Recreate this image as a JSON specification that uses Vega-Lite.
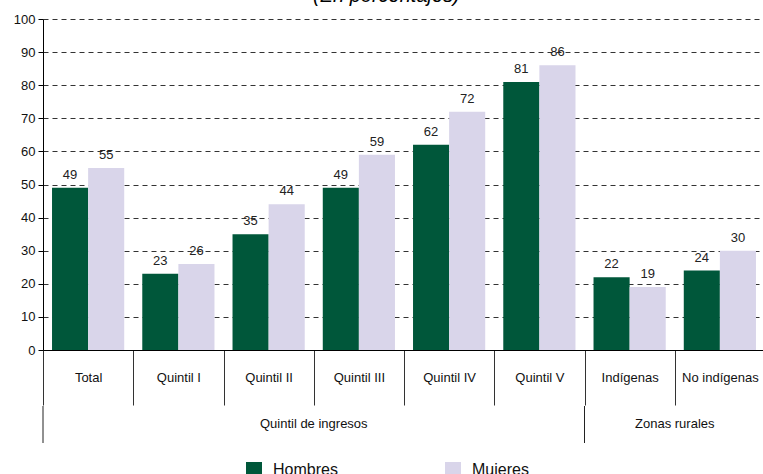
{
  "$schema": "https://vega.github.io/schema/vega-lite/v6.json",
  "padding": {"left": 13, "top": -14, "right": 0, "bottom": 0},
  "title": {"text": "(En porcentajes)", "anchor": "middle", "dx": -3, "fontStyle": "italic", "fontSize": 20, "fontWeight": "normal", "font": "Liberation Sans", "color": "#000", "offset": 7},
  "config": {"view": {"stroke": null}, "font": "Liberation Sans"},
  "datasets": {
    "valores": [
      {"categoria": "Total", "sexo": "Hombres", "valor": 49},
      {"categoria": "Total", "sexo": "Mujeres", "valor": 55},
      {"categoria": "Quintil I", "sexo": "Hombres", "valor": 23},
      {"categoria": "Quintil I", "sexo": "Mujeres", "valor": 26},
      {"categoria": "Quintil II", "sexo": "Hombres", "valor": 35},
      {"categoria": "Quintil II", "sexo": "Mujeres", "valor": 44},
      {"categoria": "Quintil III", "sexo": "Hombres", "valor": 49},
      {"categoria": "Quintil III", "sexo": "Mujeres", "valor": 59},
      {"categoria": "Quintil IV", "sexo": "Hombres", "valor": 62},
      {"categoria": "Quintil IV", "sexo": "Mujeres", "valor": 72},
      {"categoria": "Quintil V", "sexo": "Hombres", "valor": 81},
      {"categoria": "Quintil V", "sexo": "Mujeres", "valor": 86},
      {"categoria": "Indígenas", "sexo": "Hombres", "valor": 22},
      {"categoria": "Indígenas", "sexo": "Mujeres", "valor": 19},
      {"categoria": "No indígenas", "sexo": "Hombres", "valor": 24},
      {"categoria": "No indígenas", "sexo": "Mujeres", "valor": 30}
    ],
    "grupos": [
      {"grupo": "Quintil de ingresos", "inicio": 0, "centro": 3},
      {"grupo": "Zonas rurales", "inicio": 6, "centro": 7}
    ]
  },
  "spacing": -2,
  "vconcat": [
    {
      "data": {"name": "valores"},
      "width": 722,
      "height": 331,
      "encoding": {
        "x": {"field": "categoria", "type": "nominal", "sort": null,
          "scale": {"paddingInner": 0, "paddingOuter": 0},
          "axis": {"title": null, "labelAngle": 0, "tickBand": "extent", "tickSize": 55, "tickColor": "#333", "domainColor": "#000", "labelPadding": -34, "labelFontSize": 13, "labelColor": "#111", "labelBaseline": "top"}},
        "xOffset": {"field": "sexo", "type": "nominal", "sort": ["Hombres", "Mujeres"], "scale": {"paddingOuter": 0.25, "paddingInner": 0}},
        "y": {"field": "valor", "type": "quantitative",
          "scale": {"domain": [0, 100], "nice": false},
          "axis": {"title": null, "tickCount": 10, "gridDash": [5, 4], "gridColor": "#333", "gridOpacity": 1, "domainColor": "#000", "tickColor": "#000", "tickSize": 5, "labelFontSize": 13, "labelColor": "#111", "labelPadding": 3}}
      },
      "layer": [
        {
          "mark": {"type": "bar"},
          "encoding": {
            "color": {"field": "sexo", "type": "nominal",
              "scale": {"domain": ["Hombres", "Mujeres"], "range": ["#00573a", "#d9d5ea"]},
              "legend": {"orient": "none", "legendX": 203, "legendY": 443, "direction": "horizontal", "title": null, "symbolType": "square", "symbolSize": 256, "symbolStrokeWidth": 0, "labelFontSize": 16, "labelColor": "#111", "labelOffset": 11, "columnPadding": 107}}
          }
        },
        {
          "mark": {"type": "text", "baseline": "bottom", "dy": -6, "fontSize": 13, "color": "#222"},
          "encoding": {"text": {"field": "valor", "type": "quantitative"}}
        }
      ]
    },
    {
      "data": {"name": "grupos"},
      "width": 722,
      "height": 37,
      "layer": [
        {
          "mark": {"type": "rule", "color": "#222"},
          "encoding": {"x": {"field": "inicio", "type": "quantitative", "scale": {"domain": [0, 8], "nice": false}, "axis": null}}
        },
        {
          "mark": {"type": "text", "fontSize": 13, "dy": -1, "color": "#111"},
          "encoding": {
            "x": {"field": "centro", "type": "quantitative", "scale": {"domain": [0, 8], "nice": false}, "axis": null},
            "text": {"field": "grupo", "type": "nominal"}
          }
        }
      ]
    }
  ]
}
